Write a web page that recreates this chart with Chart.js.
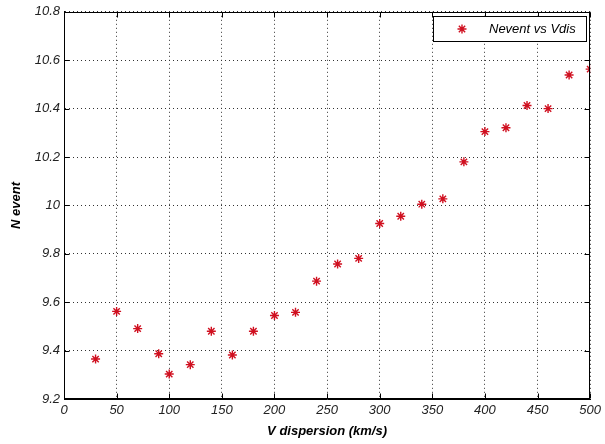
<!DOCTYPE html>
<html lang="en">
<head>
    <meta charset="UTF-8">
    <title>Nevent vs Vdis</title>
    <style>
        body {
            margin: 0;
            background: #fff;
        }
        #wrap {
            width: 605px;
            height: 444px;
        }
    </style>
    <script src="https://cdn.jsdelivr.net/npm/chart.js"></script>
</head>
<body>
    <div id="wrap">
        <canvas id="scatterChart" width="605" height="444"></canvas>
    </div>

    <script>
        // velocity dispersion (km/s)
        const vdis = [30, 50, 70, 90, 100, 120, 140, 160, 180, 200, 220, 240, 260,
                      280, 300, 320, 340, 360, 380, 400, 420, 440, 460, 480, 500];
        // N event
        const nevent = [9.365, 9.562, 9.491, 9.387, 9.303, 9.342, 9.48, 9.382, 9.48,
                        9.545, 9.558, 9.687, 9.758, 9.781, 9.925, 9.955, 10.005,
                        10.027, 10.18, 10.305, 10.321, 10.413, 10.40, 10.539, 10.563];
        const seriesName = 'Nevent vs Vdis';
        const xTitle = 'V dispersion (km/s)';
        const yTitle = 'N event';

        const fontFamily = "'Liberation Sans', Arial, sans-serif";
        const markerColor = '#d01020';

        // matlab-like box, inward ticks and legend
        const boxPlugin = {
            id: 'boxPlugin',
            afterDraw(chart) {
                const ctx = chart.ctx;
                const a = chart.chartArea;
                const L = Math.round(a.left) + 0.5, R = Math.round(a.right) - 0.5;
                const T = Math.round(a.top) + 0.5, B = Math.round(a.bottom) - 0.5;
                ctx.save();
                ctx.strokeStyle = '#000';
                ctx.lineWidth = 1;
                ctx.setLineDash([]);
                ctx.strokeRect(L, T, R - L, B - T);

                const tl = 5;
                ctx.beginPath();
                chart.scales.x.ticks.forEach(t => {
                    const px = Math.round(chart.scales.x.getPixelForValue(t.value)) + 0.5;
                    ctx.moveTo(px, B); ctx.lineTo(px, B - tl);
                    ctx.moveTo(px, T); ctx.lineTo(px, T + tl);
                });
                chart.scales.y.ticks.forEach(t => {
                    const py = Math.round(chart.scales.y.getPixelForValue(t.value)) + 0.5;
                    ctx.moveTo(L, py); ctx.lineTo(L + tl, py);
                    ctx.moveTo(R, py); ctx.lineTo(R - tl, py);
                });
                ctx.stroke();

                // legend box
                const lx = 433.5, ly = 16.5, lw = 153, lh = 25;
                ctx.fillStyle = '#fff';
                ctx.fillRect(lx, ly, lw, lh);
                ctx.strokeRect(lx, ly, lw, lh);
                const mx = 462, my = ly + lh / 2, r = 4.5;
                ctx.strokeStyle = markerColor;
                ctx.lineWidth = 1.4;
                ctx.beginPath();
                ctx.moveTo(mx - r, my); ctx.lineTo(mx + r, my);
                ctx.moveTo(mx, my - r); ctx.lineTo(mx, my + r);
                const d = r * 0.7;
                ctx.moveTo(mx - d, my - d); ctx.lineTo(mx + d, my + d);
                ctx.moveTo(mx - d, my + d); ctx.lineTo(mx + d, my - d);
                ctx.stroke();
                ctx.fillStyle = '#000';
                ctx.font = 'italic 13px ' + fontFamily;
                ctx.textBaseline = 'middle';
                ctx.textAlign = 'left';
                ctx.fillText(seriesName, 489, my + 0.5);
                ctx.restore();
            }
        };

        const ctx = document.getElementById('scatterChart').getContext('2d');
        new Chart(ctx, {
            type: 'scatter',
            data: {
                datasets: [{
                    label: seriesName,
                    data: vdis.map((v, i) => ({ x: v, y: nevent[i] })),
                    pointStyle: 'star',
                    radius: 4.5,
                    borderColor: markerColor,
                    backgroundColor: markerColor,
                    borderWidth: 1.4
                }]
            },
            options: {
                responsive: false,
                animation: false,
                layout: {
                    padding: { top: 9, right: 12, left: 0, bottom: 0 }
                },
                plugins: {
                    legend: { display: false },
                    tooltip: { enabled: false }
                },
                scales: {
                    x: {
                        type: 'linear',
                        min: 0,
                        max: 500,
                        afterFit: s => { s.height = 45; },
                        ticks: {
                            stepSize: 50,
                            padding: 4,
                            color: '#222',
                            font: { family: fontFamily, size: 13, style: 'italic' }
                        },
                        grid: { color: '#333', drawTicks: false },
                        border: { color: '#000', dash: [1, 3] },
                        title: {
                            display: true,
                            text: xTitle,
                            color: '#000',
                            padding: { top: 0, bottom: 5 },
                            font: { family: fontFamily, size: 13, style: 'italic', weight: 'bold' }
                        }
                    },
                    y: {
                        min: 9.2,
                        max: 10.8,
                        afterFit: s => { s.width = 64; },
                        ticks: {
                            stepSize: 0.2,
                            padding: 4,
                            color: '#222',
                            font: { family: fontFamily, size: 13, style: 'italic' },
                            callback: v => String(parseFloat(v.toFixed(1)))
                        },
                        grid: { color: '#333', drawTicks: false },
                        border: { color: '#000', dash: [1, 3] },
                        title: {
                            display: true,
                            text: yTitle,
                            color: '#000',
                            padding: { top: 9, bottom: 0 },
                            font: { family: fontFamily, size: 13, style: 'italic', weight: 'bold' }
                        }
                    }
                }
            },
            plugins: [boxPlugin]
        });
    </script>
</body>
</html>
